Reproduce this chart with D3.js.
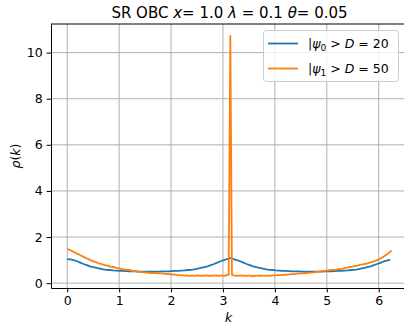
<!DOCTYPE html>
<html>
<head>
<meta charset="utf-8">
<script src="https://cdn.jsdelivr.net/npm/d3@7"></script>
<style>
  body { margin: 0; background: #fff; }
  svg text { font-family: "DejaVu Sans", sans-serif; fill: #000; }
</style>
</head>
<body>
<svg id="chart" width="404" height="324"></svg>
<script>
// Momentum distribution rho(k) of the two states on a uniform k grid over [0, 2pi)
const rhoPsi0 = [
  1.04, 1.03, 1.00, 0.95, 0.89, 0.83, 0.78, 0.73, 0.69, 0.66,
  0.63, 0.60, 0.58, 0.57, 0.55, 0.54, 0.53, 0.53, 0.52, 0.51,
  0.51, 0.51, 0.50, 0.50, 0.50, 0.50, 0.50, 0.50, 0.50, 0.51,
  0.51, 0.51, 0.52, 0.53, 0.53, 0.54, 0.55, 0.57, 0.58, 0.60,
  0.63, 0.66, 0.69, 0.73, 0.78, 0.83, 0.89, 0.95, 1.00, 1.04,
  1.09, 1.04, 1.00, 0.95, 0.89, 0.83, 0.78, 0.73, 0.69, 0.66,
  0.63, 0.60, 0.58, 0.57, 0.55, 0.54, 0.53, 0.53, 0.52, 0.51,
  0.51, 0.51, 0.50, 0.50, 0.50, 0.50, 0.50, 0.50, 0.50, 0.51,
  0.51, 0.51, 0.52, 0.53, 0.53, 0.54, 0.55, 0.57, 0.58, 0.60,
  0.63, 0.66, 0.69, 0.73, 0.78, 0.83, 0.88, 0.94, 0.98, 1.02
];

const rhoPsi1 = [
  1.49, 1.46, 1.42, 1.39, 1.35, 1.32, 1.28, 1.25, 1.21, 1.18,
  1.14, 1.11, 1.07, 1.04, 1.01, 0.98, 0.95, 0.92, 0.90, 0.86,
  0.85, 0.83, 0.80, 0.78, 0.77, 0.76, 0.73, 0.71, 0.70, 0.69,
  0.66, 0.65, 0.64, 0.62, 0.60, 0.60, 0.58, 0.57, 0.57, 0.56,
  0.53, 0.52, 0.52, 0.50, 0.50, 0.49, 0.48, 0.48, 0.46, 0.46,
  0.45, 0.45, 0.44, 0.45, 0.44, 0.43, 0.43, 0.42, 0.42, 0.41,
  0.41, 0.39, 0.40, 0.38, 0.38, 0.37, 0.38, 0.36, 0.35, 0.35,
  0.34, 0.34, 0.33, 0.34, 0.33, 0.32, 0.33, 0.33, 0.32, 0.33,
  0.34, 0.33, 0.32, 0.33, 0.33, 0.34, 0.33, 0.32, 0.32, 0.33,
  0.33, 0.34, 0.33, 0.32, 0.33, 0.33, 0.32, 0.32, 0.36, 0.36,
  10.72, 0.37, 0.34, 0.33, 0.32, 0.33, 0.33, 0.34, 0.33, 0.32,
  0.32, 0.33, 0.33, 0.32, 0.31, 0.32, 0.33, 0.33, 0.32, 0.32,
  0.33, 0.33, 0.32, 0.33, 0.33, 0.33, 0.34, 0.34, 0.34, 0.35,
  0.35, 0.35, 0.36, 0.37, 0.36, 0.37, 0.38, 0.38, 0.39, 0.39,
  0.40, 0.41, 0.41, 0.42, 0.42, 0.43, 0.44, 0.44, 0.45, 0.46,
  0.46, 0.47, 0.48, 0.49, 0.50, 0.50, 0.52, 0.53, 0.53, 0.54,
  0.55, 0.56, 0.57, 0.57, 0.58, 0.59, 0.61, 0.61, 0.62, 0.63,
  0.65, 0.66, 0.68, 0.70, 0.71, 0.72, 0.74, 0.75, 0.76, 0.78,
  0.80, 0.81, 0.83, 0.84, 0.86, 0.88, 0.90, 0.92, 0.94, 0.97,
  1.00, 1.03, 1.07, 1.11, 1.15, 1.20, 1.25, 1.30, 1.36, 1.41
];

const xTicks = [0, 1, 2, 3, 4, 5, 6];
const yTicks = [0, 2, 4, 6, 8, 10];
const seriesColors = ["#1f77b4", "#ff7f0e"];
const seriesSub = ["0", "1"];
const seriesD = ["20", "50"];

// k grid for each series: N evenly spaced points k = 2*pi*i/N
const kGrid = n => d3.range(n).map(i => 2 * Math.PI * i / n);
const series = [rhoPsi0, rhoPsi1].map(vals => {
  const ks = kGrid(vals.length);
  return vals.map((v, i) => ({ k: ks[i], v }));
});

const svg = d3.select("#chart");
const plot = { left: 51, right: 408, top: 24, bottom: 288 };

// Autoscale limits with 5% margins on each side
const allPts = series.flat();
const [kMin, kMax] = d3.extent(allPts, d => d.k);
const [vMin, vMax] = d3.extent(allPts, d => d.v);
const kPad = (kMax - kMin) * 0.05, vPad = (vMax - vMin) * 0.05;

const x = d3.scaleLinear().domain([kMin - kPad, kMax + kPad]).range([plot.left, plot.right]);
const y = d3.scaleLinear().domain([vMin - vPad, vMax + vPad]).range([plot.bottom, plot.top]);

// Grid
const grid = svg.append("g").attr("stroke", "#b0b0b0").attr("stroke-width", 1);
grid.selectAll("line.gx").data(xTicks).join("line")
  .attr("x1", d => x(d)).attr("x2", d => x(d))
  .attr("y1", plot.top).attr("y2", plot.bottom);
grid.selectAll("line.gy").data(yTicks).join("line")
  .attr("x1", plot.left).attr("x2", plot.right)
  .attr("y1", d => y(d)).attr("y2", d => y(d));

// Curves
const line = d3.line().x(d => x(d.k)).y(d => y(d.v));
svg.append("g").selectAll("path").data(series).join("path")
  .attr("d", line)
  .attr("fill", "none")
  .attr("stroke", (d, i) => seriesColors[i])
  .attr("stroke-width", 1.8)
  .attr("stroke-linejoin", "round")
  .attr("stroke-linecap", "butt");

// Axes
const xAxis = svg.append("g").attr("transform", `translate(0,${plot.bottom})`)
  .call(d3.axisBottom(x).tickValues(xTicks).tickFormat(d3.format("d"))
    .tickSize(4.4).tickPadding(4).tickSizeOuter(0));
const yAxis = svg.append("g").attr("transform", `translate(${plot.left},0)`)
  .call(d3.axisLeft(y).tickValues(yTicks).tickFormat(d3.format("d"))
    .tickSize(4.4).tickPadding(4).tickSizeOuter(0));
[xAxis, yAxis].forEach(g => {
  g.selectAll("text").attr("font-size", 12.5).attr("font-family", "DejaVu Sans").attr("fill", "#000");
  g.selectAll("line").attr("stroke", "#000").attr("stroke-width", 1);
  g.select(".domain").attr("stroke", "#000").attr("stroke-width", 1);
});
// Top spine
svg.append("line")
  .attr("x1", plot.left).attr("x2", plot.right)
  .attr("y1", plot.top).attr("y2", plot.top)
  .attr("stroke", "#000").attr("stroke-width", 1);

// Title
const title = svg.append("text")
  .attr("x", (plot.left + plot.right) / 2).attr("y", 18)
  .attr("text-anchor", "middle").attr("font-size", 15);
title.append("tspan").text("SR OBC ");
title.append("tspan").attr("font-style", "italic").text("x");
title.append("tspan").text("= 1.0 ");
title.append("tspan").attr("font-style", "italic").text("λ");
title.append("tspan").text(" = 0.1 ");
title.append("tspan").attr("font-style", "italic").text("θ");
title.append("tspan").text("= 0.05");

// Axis labels
svg.append("text")
  .attr("x", (plot.left + plot.right) / 2 - 1).attr("y", 322)
  .attr("text-anchor", "middle").attr("font-size", 12.5)
  .attr("font-style", "italic").text("k");

const yl = svg.append("text")
  .attr("transform", `translate(20,${(plot.top + plot.bottom) / 2}) rotate(-90)`)
  .attr("text-anchor", "middle").attr("font-size", 12.5);
yl.append("tspan").attr("font-style", "italic").text("ρ");
yl.append("tspan").text("(");
yl.append("tspan").attr("font-style", "italic").text("k");
yl.append("tspan").text(")");

// Legend
const legend = svg.append("g");
legend.append("rect")
  .attr("x", 263.5).attr("y", 30.5).attr("width", 135).attr("height", 51)
  .attr("rx", 3).attr("fill", "#fff").attr("fill-opacity", 0.8)
  .attr("stroke", "#cccccc").attr("stroke-width", 1);
const rows = legend.selectAll("g.row").data(seriesColors).join("g")
  .attr("transform", (d, i) => `translate(0,${43.5 + i * 25})`);
rows.append("line")
  .attr("x1", 268).attr("x2", 298).attr("y1", 0).attr("y2", 0)
  .attr("stroke", d => d).attr("stroke-width", 1.8);
rows.each(function(d, i) {
  const t = d3.select(this).append("text")
    .attr("x", 308).attr("y", 4.5).attr("font-size", 12.5);
  t.append("tspan").text("|");
  t.append("tspan").attr("font-style", "italic").text("ψ");
  t.append("tspan").attr("font-size", 9).attr("dy", 2.5).text(seriesSub[i]);
  t.append("tspan").attr("dy", -2.5).text(" > ");
  t.append("tspan").attr("font-style", "italic").text("D");
  t.append("tspan").text(" = " + seriesD[i]);
});
</script>
</body>
</html>
